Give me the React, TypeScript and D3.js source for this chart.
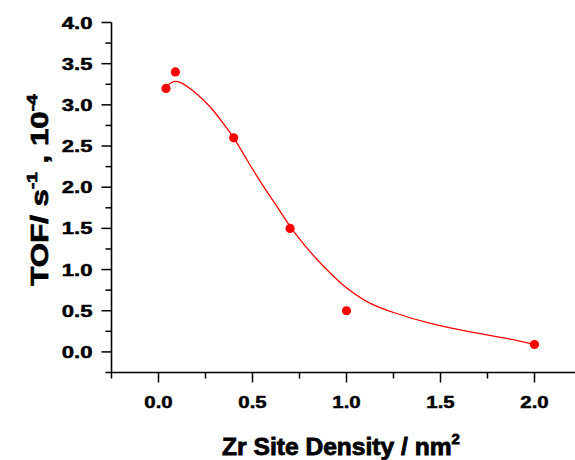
import React from "react";
import * as d3 from "d3";

// Measured turnover frequencies
const densityX = [0.04, 0.09, 0.4, 0.7, 1.0, 2.0];
const tofY = [3.2, 3.4, 2.6, 1.5, 0.5, 0.09];

// Smoothed fit through the measurements
const fitX = [0.04, 0.07, 0.1, 0.13, 0.18, 0.24, 0.29, 0.34, 0.4, 0.47, 0.56, 0.65, 0.7, 0.75, 0.8, 0.88, 0.96, 1.05, 1.12, 1.23, 1.44, 1.66, 1.87, 2.0];
const fitY = [3.22, 3.28, 3.29, 3.26, 3.18, 3.06, 2.94, 2.79, 2.61, 2.33, 2.0, 1.7, 1.52, 1.37, 1.23, 1.03, 0.85, 0.69, 0.59, 0.49, 0.34, 0.24, 0.16, 0.09];

const xMajorTicks = [0, 0.5, 1.0, 1.5, 2.0];
const xMinorTicks = [-0.25, 0.25, 0.75, 1.25, 1.75];
const yMajorTicks = [0, 0.5, 1.0, 1.5, 2.0, 2.5, 3.0, 3.5, 4.0];
const yMinorTicks = [-0.25, 0.25, 0.75, 1.25, 1.75, 2.25, 2.75, 3.25, 3.75];

const W = 575;
const H = 460;
const RED = "#ff0000";
const FONT = "'Liberation Sans', Arial, sans-serif";

export default function App() {
  const x = d3.scaleLinear().domain([-0.25, 2.25]).range([111.5, 581.5]);
  const y = d3.scaleLinear().domain([-0.25, 4.0]).range([372.5, 22.5]);

  const fitPts: [number, number][] = fitX.map((v, i) => [v, fitY[i]]);
  const line = d3
    .line<[number, number]>()
    .x((d) => x(d[0]))
    .y((d) => y(d[1]))
    .curve(d3.curveBasis);

  const axisX = x(-0.25);
  const axisY = y(-0.25);

  return (
    <svg
      width={W}
      height={H}
      style={{ position: "absolute", left: 0, top: 0, background: "#fff" }}
      fontFamily={FONT}
    >
      <rect width={W} height={H} fill="#fff" />

      {/* fit curve */}
      <path d={line(fitPts) || ""} fill="none" stroke={RED} strokeWidth={1.3} />

      {/* data points */}
      {densityX.map((v, i) => (
        <circle key={i} cx={x(v)} cy={y(tofY[i])} r={4.6} fill={RED} />
      ))}

      {/* y axis */}
      <line x1={axisX} x2={axisX} y1={y(4.0)} y2={axisY} stroke="#000" strokeWidth={1.6} />
      {yMajorTicks.map((t) => (
        <g key={"ym" + t}>
          <line x1={axisX - 10} x2={axisX} y1={y(t)} y2={y(t)} stroke="#000" strokeWidth={1.5} />
          <text
            transform={`translate(${axisX - 19},${y(t) + 6}) scale(1.3,1)`}
            textAnchor="end"
            fontSize={17}
            fontWeight="bold"
            fill="#000"
            stroke="#000"
            strokeWidth={0.5}
          >
            {t.toFixed(1)}
          </text>
        </g>
      ))}
      {yMinorTicks.map((t) => (
        <line key={"yn" + t} x1={axisX - 6} x2={axisX} y1={y(t)} y2={y(t)} stroke="#000" strokeWidth={1.5} />
      ))}

      {/* x axis */}
      <line x1={axisX} x2={W} y1={axisY} y2={axisY} stroke="#000" strokeWidth={1.6} />
      {xMajorTicks.map((t) => (
        <g key={"xm" + t}>
          <line x1={x(t)} x2={x(t)} y1={axisY} y2={axisY + 10} stroke="#000" strokeWidth={1.5} />
          <text
            transform={`translate(${x(t)},${axisY + 35}) scale(1.2,1)`}
            textAnchor="middle"
            fontSize={17}
            fontWeight="bold"
            fill="#000"
            stroke="#000"
            strokeWidth={0.5}
          >
            {t.toFixed(1)}
          </text>
        </g>
      ))}
      {xMinorTicks.map((t) => (
        <line key={"xn" + t} x1={x(t)} x2={x(t)} y1={axisY} y2={axisY + 6} stroke="#000" strokeWidth={1.5} />
      ))}

      {/* axis titles */}
      <text
        transform={`translate(341,455) scale(1.07,1)`}
        textAnchor="middle"
        fontSize={23}
        fontWeight="bold"
        fill="#000"
        stroke="#000"
        strokeWidth={0.8}
      >
        Zr Site Density / nm
        <tspan fontSize={14} dy={-11}>2</tspan>
      </text>
      <text
        transform={`translate(48,190) rotate(-90) scale(1.36,1)`}
        textAnchor="middle"
        fontSize={23}
        fontWeight="bold"
        fill="#000"
        stroke="#000"
        strokeWidth={0.7}
      >
        TOF/ s
        <tspan fontSize={14} dy={-11}>-1</tspan>
        <tspan dy={11}> , 10</tspan>
        <tspan fontSize={14} dy={-11}>-4</tspan>
      </text>
    </svg>
  );
}
